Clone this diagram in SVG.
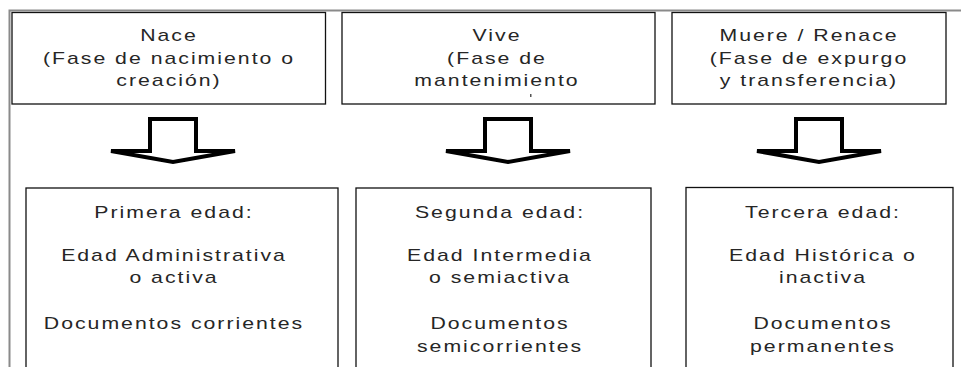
<svg xmlns="http://www.w3.org/2000/svg" width="961" height="367" viewBox="0 0 961 367">
<style>
.box{fill:#fff;stroke:#111;stroke-width:1.3}
.frame{fill:none;stroke:#8a8a8a;stroke-width:2}
.t{font-family:"Liberation Sans",Arial,sans-serif;font-size:17px;fill:#262626;text-anchor:middle;letter-spacing:1.6px}
.arrow{fill:#fff;stroke:#000;stroke-width:4;stroke-linejoin:miter;stroke-miterlimit:10}
</style>
<defs>
<polygon id="downArrow" class="arrow" points="-23,119 23,119 23,151 62,151 0,162 -62,151 -23,151"/>
</defs>
<rect width="961" height="367" fill="#fff"/>
<path class="frame" d="M9.5,367 V10.5 H961"/>

<g id="nace">
<rect class="box" x="12" y="12.5" width="313.5" height="91.5"/>
<g transform="translate(169,0) scale(1.25,1)">
<text class="t" x="0" y="41">Nace</text>
<text class="t" x="0" y="64">(Fase de nacimiento o</text>
<text class="t" x="0" y="86">creación)</text>
</g>
</g>

<g id="vive">
<rect class="box" x="342" y="12.5" width="313" height="91.5"/>
<g transform="translate(497,0) scale(1.25,1)">
<text class="t" x="0" y="41">Vive</text>
<text class="t" x="0" y="64">(Fase de</text>
<text class="t" x="0" y="86">mantenimiento</text>
</g>
<rect x="530" y="94" width="1.5" height="3" fill="#555"/>
</g>

<g id="muere">
<rect class="box" x="672" y="12.5" width="274" height="91.5"/>
<g transform="translate(809,0) scale(1.25,1)">
<text class="t" x="0" y="41">Muere / Renace</text>
<text class="t" x="0" y="64">(Fase de expurgo</text>
<text class="t" x="0" y="86">y transferencia)</text>
</g>
</g>

<g id="connectors">
<use href="#downArrow" x="173" y="0"/>
<use href="#downArrow" x="508" y="0"/>
<use href="#downArrow" x="819" y="0"/>
</g>

<g id="primera">
<rect class="box" x="26" y="188" width="312" height="190"/>
<g transform="translate(174,0) scale(1.25,1)">
<text class="t" x="0" y="218">Primera edad:</text>
<text class="t" x="0" y="261">Edad Administrativa</text>
<text class="t" x="0" y="283">o activa</text>
<text class="t" x="0" y="329">Documentos corrientes</text>
</g>
</g>

<g id="segunda">
<rect class="box" x="356" y="188" width="295" height="190"/>
<g transform="translate(500,0) scale(1.25,1)">
<text class="t" x="0" y="218">Segunda edad:</text>
<text class="t" x="0" y="261">Edad Intermedia</text>
<text class="t" x="0" y="283">o semiactiva</text>
<text class="t" x="0" y="329">Documentos</text>
<text class="t" x="0" y="352">semicorrientes</text>
</g>
</g>

<g id="tercera">
<rect class="box" x="686" y="187.5" width="267" height="190"/>
<g transform="translate(823,0) scale(1.25,1)">
<text class="t" x="0" y="218">Tercera edad:</text>
<text class="t" x="0" y="261">Edad Histórica o</text>
<text class="t" x="0" y="283">inactiva</text>
<text class="t" x="0" y="329">Documentos</text>
<text class="t" x="0" y="352">permanentes</text>
</g>
</g>
</svg>
